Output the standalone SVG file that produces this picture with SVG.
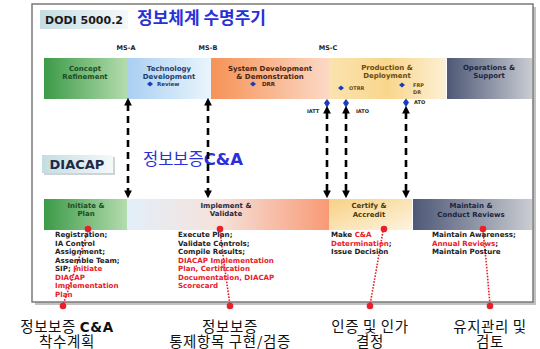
<svg xmlns="http://www.w3.org/2000/svg" width="540" height="349" viewBox="0 0 540 349">
<defs>
<linearGradient id="gGreen" x1="0" y1="0" x2="1" y2="0"><stop offset="0" stop-color="#3c9a48"/><stop offset="1" stop-color="#b4dcae"/></linearGradient>
<linearGradient id="gBlue" x1="0" y1="0" x2="1" y2="0"><stop offset="0" stop-color="#a9cff2"/><stop offset="1" stop-color="#eaf5fd"/></linearGradient>
<linearGradient id="gOrange" x1="0" y1="0" x2="1" y2="0"><stop offset="0" stop-color="#f69256"/><stop offset="1" stop-color="#fcd9c6"/></linearGradient>
<linearGradient id="gYellow" x1="0" y1="0" x2="1" y2="0"><stop offset="0" stop-color="#fbe3b0"/><stop offset="0.5" stop-color="#f9d68c"/><stop offset="1" stop-color="#fdf0d6"/></linearGradient>
<linearGradient id="gSlate" x1="0" y1="0" x2="1" y2="0"><stop offset="0" stop-color="#4e5876"/><stop offset="1" stop-color="#c9ccd2"/></linearGradient>
<linearGradient id="gImpl" x1="0" y1="0" x2="1" y2="0"><stop offset="0" stop-color="#e2eff9"/><stop offset="0.45" stop-color="#f6e2dc"/><stop offset="1" stop-color="#f89a74"/></linearGradient>
<linearGradient id="gCert" x1="0" y1="0" x2="1" y2="1"><stop offset="0" stop-color="#f8d184"/><stop offset="1" stop-color="#fdf4e0"/></linearGradient>
<linearGradient id="gLabel" x1="0" y1="0" x2="1" y2="0"><stop offset="0" stop-color="#c4dde2"/><stop offset="1" stop-color="#f4f8f9"/></linearGradient>
<marker id="ah" viewBox="0 0 10 10" refX="2" refY="5" markerWidth="3" markerHeight="3" orient="auto-start-reverse"><path d="M0,0 L10,5 L0,10 z" fill="#000"/></marker>
</defs>
<style>
.en{font-family:"DejaVu Sans","Liberation Sans",sans-serif;font-weight:bold}
.bar{font-size:7px;text-anchor:middle}
.sm{font-size:5.5px}
.col{font-size:7.1px;fill:#222}
.red{fill:#e8202a}
.kr{font-family:"Noto Sans CJK KR","Noto Sans",sans-serif}
.big{font-size:14.5px;fill:#111;text-anchor:middle;letter-spacing:0.6px}
.dash{stroke:#000;stroke-width:2.6;stroke-dasharray:7 5;fill:none}
.pin{stroke:#e8202a;stroke-width:1.6;stroke-dasharray:1.6 1.4;fill:none}
.dot{fill:#e8202a}
.dia{fill:#1a3cc0}
</style>
<rect x="0" y="0" width="540" height="349" fill="#fff"/>
<g id="frame">
<rect x="35" y="7" width="501" height="298" fill="#9a9a9a" opacity="0.6"/>
<rect x="32" y="4" width="501" height="298" fill="#fff" stroke="#7a7a7a" stroke-width="1.5"/>
</g>
<g id="dodi-title">
<rect x="40" y="10" width="88" height="19" fill="url(#gLabel)"/>
<text x="84" y="24" class="en" font-size="11" fill="#1a1a1a" text-anchor="middle">DODI 5000.2</text>
<text x="137" y="24" class="kr" font-size="17" fill="#2a30d8" font-weight="bold">정보체계 수명주기</text>
</g>
<g id="milestones" class="en" font-size="6.5" fill="#222" text-anchor="middle">
<text x="126" y="50">MS-A</text>
<text x="208" y="50">MS-B</text>
<text x="328" y="50">MS-C</text>
</g>
<g id="concept">
<rect x="44" y="58" width="83" height="41" fill="url(#gGreen)"/>
<text class="en bar" fill="#1d4d22"><tspan x="85" y="71">Concept</tspan><tspan x="85" y="79">Refinement</tspan></text>
</g>
<g id="technology">
<rect x="127" y="58" width="84" height="41" fill="url(#gBlue)"/>
<text class="en bar" fill="#1f3d6e"><tspan x="169" y="71">Technology</tspan><tspan x="169" y="79">Development</tspan></text>
<path class="dia" d="M150,81.5 L153,84 L150,86.5 L147,84 z"/>
<text x="157" y="86" class="en sm" fill="#1f3d6e">Review</text>
</g>
<g id="sysdev">
<rect x="211" y="58" width="118" height="41" fill="url(#gOrange)"/>
<text class="en bar" fill="#4a2410"><tspan x="270" y="71">System Development</tspan><tspan x="270" y="79">&amp; Demonstration</tspan></text>
<path class="dia" d="M253,81.5 L256,84 L253,86.5 L250,84 z"/>
<text x="262" y="86" class="en sm" fill="#4a2410">DRR</text>
</g>
<g id="production">
<rect x="329" y="58" width="117" height="41" fill="url(#gYellow)"/>
<text class="en bar" fill="#6b4a12"><tspan x="387" y="70">Production &amp;</tspan><tspan x="387" y="78">Deployment</tspan></text>
<path class="dia" d="M341,85.5 L344,88 L341,90.5 L338,88 z"/>
<text x="349" y="90" class="en" font-size="5" fill="#6b4a12">OTRR</text>
<path class="dia" d="M402,82.5 L405,85 L402,87.5 L399,85 z"/>
<text class="en" font-size="5" fill="#6b4a12"><tspan x="413" y="87">FRP</tspan><tspan x="413" y="94">DR</tspan></text>
</g>
<g id="operations">
<rect x="447" y="58" width="85" height="41" fill="url(#gSlate)"/>
<text class="en bar" fill="#1c2540"><tspan x="489" y="70">Operations &amp;</tspan><tspan x="489" y="78">Support</tspan></text>
</g>
<g id="accreditation-points">
<path class="dia" d="M327,99 L330,103 L327,107.5 L324,103 z"/>
<path class="dia" d="M346,99 L349,103 L346,107.5 L343,103 z"/>
<path class="dia" d="M406,98.5 L409,102.5 L406,107 L403,102.5 z"/>
<text class="en" font-size="5" fill="#222"><tspan x="307" y="113">IATT</tspan><tspan x="356" y="113">IATO</tspan><tspan x="414" y="104">ATO</tspan></text>
</g>
<g id="diacap-title">
<rect x="44" y="157" width="71" height="18" fill="#a0a8aa" opacity="0.5"/>
<rect x="42" y="155" width="71" height="18" fill="url(#gLabel)"/>
<text x="77" y="169" class="en" font-size="13" fill="#1c2a48" text-anchor="middle">DIACAP</text>
<text x="143" y="165" font-size="16.5" fill="#2a30d8"><tspan class="kr">정보보증</tspan><tspan class="en">C&amp;A</tspan></text>
</g>
<g id="connectors">
<line class="dash" x1="128" y1="104" x2="128" y2="192" marker-start="url(#ah)" marker-end="url(#ah)"/>
<line class="dash" x1="208" y1="104" x2="208" y2="192" marker-start="url(#ah)" marker-end="url(#ah)"/>
<line class="dash" x1="327" y1="112" x2="327" y2="192" marker-start="url(#ah)" marker-end="url(#ah)"/>
<line class="dash" x1="346" y1="112" x2="346" y2="192" marker-start="url(#ah)" marker-end="url(#ah)"/>
<line class="dash" x1="406" y1="112" x2="406" y2="192" marker-start="url(#ah)" marker-end="url(#ah)"/>
<path class="pin" d="M88,231 L70,285 L63,305"/>
<path class="pin" d="M220,231 L225,270 L230,305"/>
<path class="pin" d="M383,231 L378,260 L370,305"/>
<path class="pin" d="M483,231 L487,270 L490,305"/>
</g>
<g id="initiate">
<rect x="44" y="199" width="83" height="31" fill="url(#gGreen)"/>
<text class="en bar" fill="#1d4d22"><tspan x="86" y="208">Initiate &amp;</tspan><tspan x="86" y="216">Plan</tspan></text>
</g>
<g id="implement">
<rect x="127" y="199" width="202" height="31" fill="url(#gImpl)"/>
<text class="en bar" fill="#2a2a3a"><tspan x="226" y="208">Implement &amp;</tspan><tspan x="226" y="216">Validate</tspan></text>
</g>
<g id="certify">
<rect x="329" y="199" width="83" height="31" fill="url(#gCert)"/>
<text class="en bar" fill="#4a3a10"><tspan x="369" y="208">Certify &amp;</tspan><tspan x="369" y="217">Accredit</tspan></text>
</g>
<g id="maintain">
<rect x="413" y="199" width="119" height="31" fill="url(#gSlate)"/>
<text class="en bar" fill="#1c2540"><tspan x="471" y="208">Maintain &amp;</tspan><tspan x="471" y="217">Conduct Reviews</tspan></text>
</g>
<g id="tasks" class="en col">
<text x="55" y="237">Registration;</text>
<text x="55" y="245.5">IA Control</text>
<text x="55" y="254">Assignment;</text>
<text x="55" y="262.5">Assemble Team;</text>
<text x="55" y="271">SIP; <tspan class="red">Initiate</tspan></text>
<text x="55" y="279.5" class="red">DIACAP</text>
<text x="55" y="288" class="red">Implementation</text>
<text x="55" y="296.5" class="red">Plan</text>
<text x="178" y="237">Execute Plan;</text>
<text x="178" y="245.5">Validate Controls;</text>
<text x="178" y="254">Compile Results;</text>
<text x="178" y="262.5" class="red">DIACAP Implementation</text>
<text x="178" y="271" class="red">Plan, Certification</text>
<text x="178" y="279.5" class="red">Documentation, DIACAP</text>
<text x="178" y="288" class="red">Scorecard</text>
<text x="331" y="237">Make <tspan class="red">C&amp;A</tspan></text>
<text x="331" y="245.5"><tspan class="red">Determination</tspan>;</text>
<text x="331" y="254">Issue Decision</text>
<text x="432" y="237">Maintain Awareness;</text>
<text x="432" y="245.5"><tspan class="red">Annual Reviews</tspan>;</text>
<text x="432" y="254">Maintain Posture</text>
</g>
<g id="pins">
<circle class="dot" cx="88" cy="229" r="3.3"/>
<circle class="dot" cx="220" cy="229" r="3.3"/>
<circle class="dot" cx="384" cy="229" r="3.3"/>
<circle class="dot" cx="483" cy="229" r="3.3"/>
<circle class="dot" cx="63" cy="306" r="3.3"/>
<circle class="dot" cx="230" cy="306" r="3.3"/>
<circle class="dot" cx="370" cy="306" r="3.3"/>
<circle class="dot" cx="490" cy="306" r="3.3"/>
</g>
<g id="labels" class="kr big">
<text x="67" y="332">정보보증 <tspan font-family="DejaVu Sans, sans-serif" font-weight="bold" font-size="13.5">C&amp;A</tspan></text>
<text x="67" y="347">착수계획</text>
<text x="230" y="332">정보보증</text>
<text x="230" y="347">통제항목 구현/검증</text>
<text x="370" y="332">인증 및 인가</text>
<text x="370" y="347">결정</text>
<text x="490" y="332">유지관리 및</text>
<text x="490" y="347">검토</text>
</g>
</svg>
